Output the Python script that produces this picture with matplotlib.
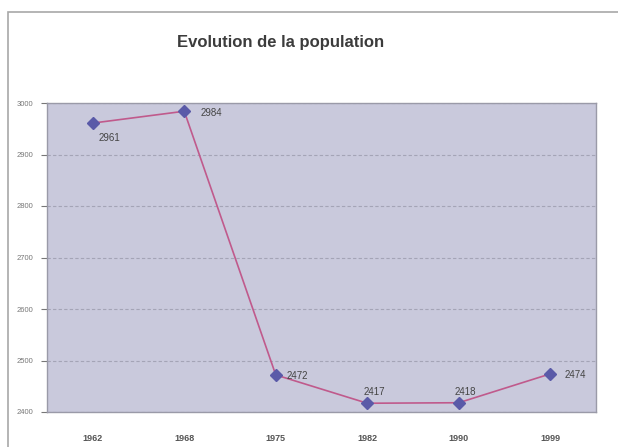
import numpy as np
import matplotlib.pyplot as plt
from matplotlib.patches import Rectangle

years = ['1962', '1968', '1975', '1982', '1990', '1999']
population = [2961, 2984, 2472, 2417, 2418, 2474]
yticks = [2400, 2500, 2600, 2700, 2800, 2900, 3000]

# where each data label sits relative to its point (points)
label_offsets = [(4, -11), (12, -1), (8, -1), (-3, 8), (-3, 8), (10, -1)]

plt.rcParams['font.family'] = ['Liberation Sans', 'DejaVu Sans']

fig = plt.figure(figsize=(6.18, 4.47), dpi=100)
fig.patch.set_facecolor('white')

# outer chart frame
fig.patches.append(Rectangle((8/618, -0.05), 1.1, (447-12)/447 + 0.05,
                             transform=fig.transFigure, fill=False,
                             edgecolor='#a8a8a8', linewidth=1.2))

ax = fig.add_axes([47/618, 35/447, 549/618, 309/447])
ax.set_facecolor('#c9c9dc')

x = np.arange(len(years))
ax.plot(x, population, color='#c05a8c', linewidth=1.2, zorder=3)
ax.plot(x, population, linestyle='none', marker='D', markersize=6.5,
        color='#5a5aa8', zorder=4)

for xi, val, (dx, dy) in zip(x, population, label_offsets):
    ax.annotate(str(val), (xi, val), xytext=(dx, dy), textcoords='offset points',
                fontsize=7, color='#444444', va='center')

ax.set_xlim(-0.5, len(years) - 0.5)
ax.set_ylim(2400, 3000)
ax.set_xticks(x)
ax.set_xticklabels(years)
ax.set_yticks(yticks)
ax.tick_params(axis='x', length=0, labelsize=6.5, colors='#555555', pad=16)
ax.tick_params(axis='y', length=4, labelsize=5.5, colors='#777777', pad=6)
for lbl in ax.get_xticklabels():
    lbl.set_fontweight('bold')

ax.grid(axis='y', color='#a4a4b6', linestyle=(0, (3, 2)), linewidth=0.8)
ax.set_axisbelow(True)
for s in ax.spines.values():
    s.set_color('#9a9aa8')
    s.set_linewidth(1.0)

fig.text(281/618, 1 - 42/447, 'Evolution de la population', ha='center', va='center',
         fontsize=12, fontweight='bold', color='#3c3c3c')

fig.savefig('out.png', dpi=100)
